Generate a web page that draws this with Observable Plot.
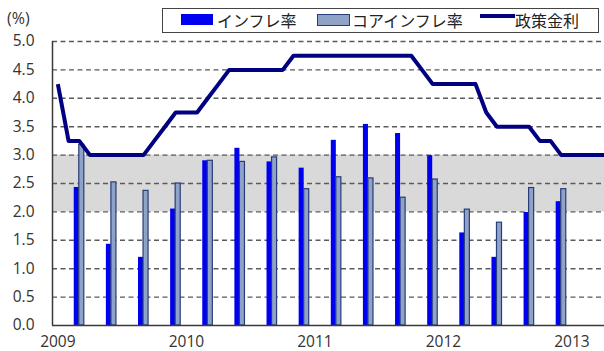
<!DOCTYPE html>
<html><head><meta charset="utf-8">
<script src="https://cdn.jsdelivr.net/npm/d3@7"></script>
<script src="https://cdn.jsdelivr.net/npm/@observablehq/plot@0.6"></script>
<style>
body{margin:0;background:#fff;}
#wrap{position:relative;width:604px;height:351px;overflow:hidden;font-family:"Open Sans",sans-serif;color:#333;}
#wrap svg text{font-size:15.5px;font-family:"Open Sans",sans-serif;fill:#333;}
#unit{position:absolute;left:7px;top:7px;font-size:16px;}
#legend{position:absolute;left:162px;top:8px;width:437px;height:25px;border:1.5px solid #444;box-sizing:border-box;font-family:"Noto Sans CJK JP",sans-serif;font-size:16px;color:#222;}
#legend .it{position:absolute;top:0;height:22px;line-height:22px;white-space:nowrap;}
#legend .sw{position:absolute;}
svg{position:absolute;left:0;top:0;}
</style></head><body><div id="wrap"></div>
<script>
// ---- data ----
const quarters = ["2009-03","2009-06","2009-09","2009-12","2010-03","2010-06","2010-09","2010-12",
                  "2011-03","2011-06","2011-09","2011-12","2012-03","2012-06","2012-09","2012-12"];
const inflation = [2.43,1.43,1.20,2.05,2.90,3.12,2.88,2.77,3.26,3.54,3.38,2.99,1.63,1.20,1.99,2.18];
const coreInflation = [3.18,2.52,2.37,2.50,2.90,2.88,2.96,2.40,2.61,2.59,2.25,2.57,2.04,1.81,2.42,2.40];
const policyStart = "2009-01";
const policyRate = [4.25,3.25,3.25,3.00,3.00,3.00,3.00,3.00,3.00,3.25,3.50,3.75,
                    3.75,3.75,4.00,4.25,4.50,4.50,4.50,4.50,4.50,4.50,4.75,4.75,
                    4.75,4.75,4.75,4.75,4.75,4.75,4.75,4.75,4.75,4.75,4.50,4.25,
                    4.25,4.25,4.25,4.25,3.75,3.50,3.50,3.50,3.50,3.25,3.25,3.00,
                    3.00,3.00,3.00,3.00];
const yearLabels = ["2009","2010","2011","2012","2013"];
const yTicks = [0,0.5,1,1.5,2,2.5,3,3.5,4,4.5,5];
const targetBand = [2.0, 3.0];
const seriesNames = ["インフレ率","コアインフレ率","政策金利"];
const unitLabel = "(%)";

// month index helper (Jan 2009 = 0)
const base = policyStart.split("-").map(Number);
const mIndex = s => { const [y,m] = s.split("-").map(Number); return (y-base[0])*12 + (m-base[1]); };

const barData = quarters.map((q,i)=>({i:mIndex(q), infl:inflation[i], core:coreInflation[i]}));
const lineData = policyRate.map((v,i)=>({i, v}));
const yearTicks = yearLabels.map(y => mIndex(y+"-01"));
const xDomain = [-0.5, 51.04];

const chart = Plot.plot({
  width:604, height:351,
  marginTop:41, marginBottom:26, marginLeft:52, marginRight:0,
  style:{fontFamily:"Open Sans", fontSize:"15px", color:"#333", background:"transparent"},
  x:{domain:xDomain, ticks:yearTicks, tickSize:0, tickPadding:10,
     tickFormat:(d)=>yearLabels[yearTicks.indexOf(d)], label:null},
  y:{domain:[0,5], ticks:yTicks, tickSize:0, tickPadding:18, tickFormat:d=>d.toFixed(1), label:null},
  marks:[
    Plot.rect([targetBand], {y1:d=>d[0], y2:d=>d[1], fill:"#d9d9d9"}),
    Plot.ruleY(yTicks.filter(d=>d>0), {stroke:"#5a5a5a", strokeWidth:1.4, strokeDasharray:"5,3.5"}),
    Plot.rect(barData, {x1:d=>d.i-0.47, x2:d=>d.i, y1:0, y2:"infl", fill:"#0000f0"}),
    Plot.rect(barData, {x1:d=>d.i, x2:d=>d.i+0.47, y1:0, y2:"core", fill:"#8fa3c8", stroke:"#283c78", strokeWidth:1.2}),
    Plot.line(lineData, {x:"i", y:"v", stroke:"#000080", strokeWidth:4, strokeLinejoin:"round", strokeLinecap:"butt"}),
    Plot.ruleY([0], {stroke:"#3a3a3a", strokeWidth:1.5}),
    Plot.ruleX([xDomain[0]], {y1:0, y2:5, stroke:"#3a3a3a", strokeWidth:1.5})
  ]
});

const wrap = document.getElementById("wrap");
wrap.appendChild(chart);

const unit = document.createElement("div");
unit.id = "unit"; unit.textContent = unitLabel;
wrap.appendChild(unit);

const legend = document.createElement("div");
legend.id = "legend";
legend.innerHTML = `
  <div class="sw" style="left:18px;top:5px;width:32px;height:11px;background:#0000f0"></div>
  <div class="it" style="left:54px">${seriesNames[0]}</div>
  <div class="sw" style="left:154px;top:5px;width:31px;height:10px;background:#8fa3c8;border:1px solid #283c78"></div>
  <div class="it" style="left:189px">${seriesNames[1]}</div>
  <div class="sw" style="left:317px;top:5px;width:35px;height:4px;background:#000080"></div>
  <div class="it" style="left:352px">${seriesNames[2]}</div>`;
wrap.appendChild(legend);
</script></body></html>
